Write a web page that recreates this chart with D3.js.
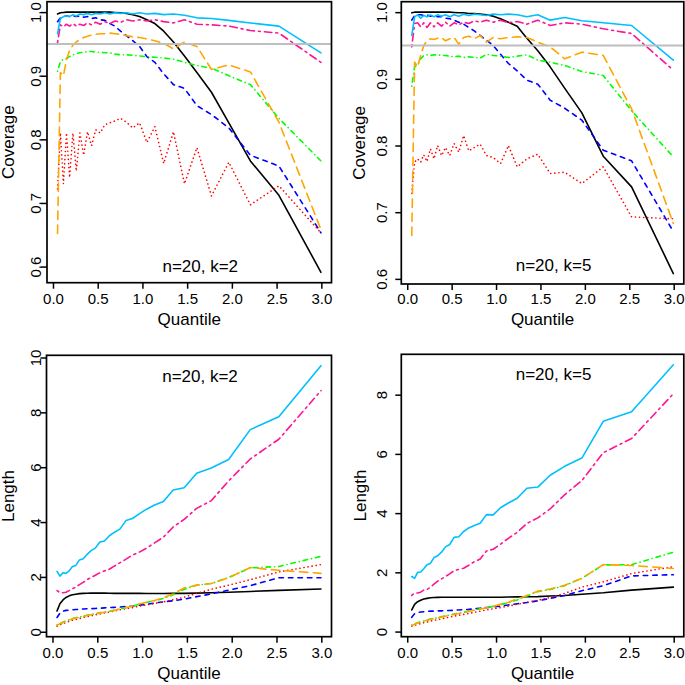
<!DOCTYPE html>
<html><head><meta charset="utf-8">
<script src="https://cdn.jsdelivr.net/npm/d3@7"></script>
<style>
html,body{margin:0;padding:0;background:#fff;}
svg{display:block;}
text{font-family:"Liberation Sans",Arial,Helvetica,sans-serif;fill:#000;}
</style>
</head><body>
<svg id="chart" width="685" height="685"></svg>
<script>
// ---------- data ----------
const quantile = [0.051,0.083,0.117,0.151,0.186,0.223,0.261,0.301,0.343,0.386,0.431,0.478,0.528,0.580,0.635,0.693,0.755,0.821,0.892,0.968,1.050,1.139,1.238,1.347,1.470,1.609,1.772,1.966,2.207,2.526,2.996];

const xTicks = [0, 0.5, 1.0, 1.5, 2.0, 2.5, 3.0];
const coverageTicks = [0.6, 0.7, 0.8, 0.9, 1.0];
const lengthTicksK2 = [0, 2, 4, 6, 8, 10];
const lengthTicksK5 = [0, 2, 4, 6, 8];
const nominalLevel = 0.95;
const panelLabels = ["n=20, k=2", "n=20, k=5", "n=20, k=2", "n=20, k=5"];
const yTitles = ["Coverage", "Coverage", "Length", "Length"];
const xTitle = "Quantile";

// coverage, k=2
const covK2Black  = [0.997,0.999,0.9995,1,1,1,1,1,1,1,1,1,1,1,1,0.9995,0.999,0.998,0.996,0.993,0.988,0.982,0.970,0.953,0.931,0.905,0.874,0.826,0.766,0.712,0.591];
const covK2Blue   = [0.985,0.991,0.993,0.994,0.993,0.994,0.993,0.994,0.992,0.993,0.990,0.991,0.988,0.987,0.982,0.978,0.970,0.963,0.955,0.946,0.930,0.921,0.903,0.886,0.880,0.853,0.839,0.818,0.775,0.758,0.653];
const covK2Red    = [0.722,0.810,0.730,0.810,0.740,0.810,0.750,0.810,0.775,0.812,0.790,0.815,0.810,0.823,0.826,0.829,0.833,0.827,0.818,0.826,0.795,0.820,0.762,0.812,0.730,0.787,0.711,0.764,0.697,0.727,0.653];
const covK2Green  = [0.907,0.922,0.926,0.927,0.930,0.933,0.935,0.936,0.937,0.938,0.938,0.937,0.937,0.936,0.936,0.934,0.933,0.933,0.932,0.931,0.930,0.929,0.928,0.926,0.921,0.916,0.912,0.900,0.886,0.833,0.766];
const covK2Orange = [0.652,0.905,0.900,0.925,0.940,0.948,0.953,0.957,0.960,0.962,0.964,0.965,0.966,0.966,0.967,0.966,0.965,0.963,0.961,0.960,0.958,0.955,0.951,0.942,0.953,0.946,0.910,0.917,0.906,0.827,0.658];
const covK2Pink   = [0.952,0.980,0.977,0.981,0.978,0.982,0.978,0.981,0.979,0.983,0.980,0.984,0.981,0.985,0.982,0.986,0.984,0.988,0.986,0.988,0.986,0.988,0.985,0.983,0.988,0.981,0.980,0.978,0.971,0.967,0.921];
const covK2Cyan   = [0.966,0.990,0.993,0.994,0.993,0.996,0.994,0.997,0.996,0.998,0.996,0.998,0.997,0.999,0.997,0.999,0.998,0.999,0.997,0.999,0.997,0.998,0.996,0.997,0.995,0.991,0.990,0.987,0.983,0.978,0.936];

// coverage, k=5
const covK5Black  = [0.999,1,1,1,1,1,1,1,1,1,1,1,0.9995,0.999,0.999,0.998,0.998,0.997,0.996,0.994,0.990,0.985,0.979,0.961,0.942,0.918,0.886,0.849,0.784,0.738,0.608];
const covK5Blue   = [0.988,0.995,0.996,0.996,0.995,0.996,0.994,0.995,0.993,0.993,0.991,0.990,0.988,0.985,0.982,0.977,0.972,0.965,0.958,0.950,0.937,0.923,0.912,0.898,0.892,0.868,0.856,0.838,0.793,0.777,0.671];
const covK5Red    = [0.728,0.775,0.780,0.775,0.786,0.776,0.795,0.780,0.800,0.785,0.797,0.785,0.803,0.790,0.815,0.792,0.797,0.802,0.785,0.782,0.773,0.800,0.768,0.780,0.787,0.758,0.760,0.743,0.768,0.693,0.690];
const covK5Green  = [0.889,0.918,0.921,0.930,0.935,0.936,0.935,0.936,0.936,0.935,0.935,0.934,0.933,0.934,0.932,0.933,0.932,0.931,0.937,0.935,0.934,0.932,0.934,0.936,0.928,0.925,0.920,0.911,0.905,0.852,0.783];
const covK5Orange = [0.665,0.925,0.918,0.935,0.950,0.957,0.960,0.959,0.961,0.962,0.957,0.960,0.962,0.952,0.962,0.964,0.960,0.965,0.955,0.962,0.960,0.962,0.963,0.962,0.955,0.948,0.930,0.940,0.935,0.855,0.683];
const covK5Pink   = [0.948,0.983,0.984,0.978,0.984,0.977,0.984,0.978,0.984,0.979,0.985,0.979,0.984,0.981,0.985,0.983,0.987,0.985,0.988,0.985,0.988,0.984,0.986,0.982,0.988,0.980,0.984,0.982,0.975,0.968,0.913];
const covK5Cyan   = [0.965,0.993,0.996,0.991,0.995,0.993,0.996,0.993,0.996,0.994,0.996,0.993,0.996,0.994,0.997,0.995,0.997,0.996,0.995,0.997,0.996,0.997,0.996,0.993,0.996,0.988,0.992,0.987,0.984,0.980,0.928];

// length, k=2
const lenK2Black  = [0.76,1.02,1.16,1.25,1.31,1.35,1.37,1.39,1.40,1.405,1.41,1.41,1.41,1.41,1.405,1.40,1.40,1.40,1.40,1.40,1.395,1.395,1.395,1.40,1.40,1.41,1.42,1.44,1.47,1.51,1.56];
const lenK2Blue   = [0.52,0.68,0.75,0.78,0.79,0.80,0.81,0.82,0.83,0.84,0.84,0.85,0.86,0.87,0.88,0.89,0.90,0.92,0.94,0.97,1.00,1.05,1.09,1.13,1.19,1.28,1.38,1.52,1.68,1.97,1.97];
const lenK2Red    = [0.20,0.25,0.30,0.34,0.38,0.42,0.45,0.48,0.52,0.55,0.58,0.62,0.65,0.69,0.72,0.76,0.80,0.84,0.88,0.93,0.98,1.03,1.09,1.17,1.26,1.40,1.55,1.70,1.90,2.18,2.45];
const lenK2Green  = [0.25,0.30,0.35,0.40,0.44,0.48,0.51,0.54,0.57,0.60,0.63,0.66,0.69,0.72,0.75,0.79,0.84,0.88,0.93,1.00,1.07,1.13,1.22,1.35,1.55,1.70,1.76,1.98,2.33,2.38,2.75];
const lenK2Orange = [0.24,0.29,0.34,0.39,0.43,0.47,0.50,0.53,0.56,0.59,0.62,0.65,0.68,0.71,0.74,0.78,0.83,0.88,0.94,1.01,1.08,1.14,1.24,1.38,1.60,1.70,1.76,1.97,2.34,2.24,2.13];
const lenK2Pink   = [1.50,1.43,1.42,1.44,1.50,1.57,1.63,1.72,1.80,1.90,1.98,2.06,2.15,2.22,2.28,2.40,2.52,2.65,2.80,2.90,3.05,3.24,3.45,3.82,4.10,4.50,4.78,5.50,6.30,7.02,8.79];
const lenK2Cyan   = [2.20,2.03,2.15,2.13,2.22,2.38,2.42,2.62,2.66,2.82,2.96,3.05,3.27,3.31,3.50,3.63,3.75,4.06,4.13,4.30,4.47,4.62,4.75,5.17,5.25,5.78,5.97,6.28,7.37,7.84,9.70];

// length, k=5
const lenK5Black  = [0.73,0.92,1.01,1.06,1.10,1.12,1.14,1.15,1.155,1.16,1.16,1.16,1.16,1.16,1.16,1.16,1.16,1.16,1.16,1.16,1.16,1.165,1.17,1.175,1.18,1.20,1.22,1.26,1.31,1.40,1.50];
const lenK5Blue   = [0.48,0.60,0.64,0.66,0.67,0.68,0.69,0.69,0.70,0.70,0.71,0.71,0.72,0.73,0.74,0.75,0.77,0.79,0.81,0.83,0.86,0.90,0.94,0.98,1.04,1.12,1.22,1.38,1.55,1.88,1.92];
const lenK5Red    = [0.18,0.21,0.24,0.27,0.30,0.32,0.35,0.38,0.40,0.43,0.46,0.49,0.52,0.55,0.58,0.61,0.65,0.69,0.73,0.77,0.81,0.86,0.92,0.98,1.06,1.15,1.29,1.50,1.68,1.96,2.19];
const lenK5Green  = [0.22,0.26,0.30,0.33,0.36,0.39,0.42,0.44,0.47,0.50,0.53,0.56,0.59,0.62,0.65,0.69,0.73,0.77,0.80,0.85,0.91,0.97,1.07,1.20,1.35,1.42,1.55,1.80,2.25,2.26,2.68];
const lenK5Orange = [0.20,0.25,0.29,0.32,0.35,0.38,0.41,0.44,0.46,0.49,0.52,0.55,0.58,0.61,0.64,0.68,0.72,0.76,0.80,0.85,0.92,0.99,1.10,1.22,1.36,1.44,1.56,1.80,2.26,2.23,2.13];
const lenK5Pink   = [1.22,1.30,1.30,1.33,1.40,1.42,1.50,1.60,1.70,1.78,1.86,1.95,2.06,2.10,2.14,2.24,2.36,2.45,2.72,2.78,2.95,3.15,3.35,3.65,3.84,4.14,4.62,5.10,6.04,6.52,8.03];
const lenK5Cyan   = [1.86,1.80,2.00,2.01,2.12,2.26,2.30,2.50,2.56,2.68,2.86,2.94,3.18,3.20,3.38,3.50,3.58,3.66,3.95,3.94,4.18,4.34,4.50,4.84,4.88,5.28,5.58,5.86,7.10,7.42,9.01];

// ---------- styles (line types as in R: solid, dashed, dotted, dotdash, longdash, twodash, solid) ----------
const seriesStyles = [
  {color:"#000000", dash:null},
  {color:"#0000FF", dash:"4.5,5"},
  {color:"#FF0000", dash:"0.1,4"},
  {color:"#00FF00", dash:"0.1,4,4.5,4"},
  {color:"#FFA500", dash:"8.5,5.5"},
  {color:"#FF1493", dash:"2,4,7.5,4"},
  {color:"#00BFFF", dash:null}
];

const panels = [
  {series:[covK2Black,covK2Blue,covK2Red,covK2Green,covK2Orange,covK2Pink,covK2Cyan], yTicks:coverageTicks, yFmt:".1f", ref:nominalLevel,
   left:47, right:331.5, top:1.7, bottom:282.7, yLabX:41, yTitleX:13.5, xLabY:304, xTitleY:325, legY:271.5},
  {series:[covK5Black,covK5Blue,covK5Red,covK5Green,covK5Orange,covK5Pink,covK5Cyan], yTicks:coverageTicks, yFmt:".1f", ref:nominalLevel,
   left:401.3, right:683.8, top:1.7, bottom:284, yLabX:387, yTitleX:365, xLabY:304, xTitleY:325, legY:271},
  {series:[lenK2Black,lenK2Blue,lenK2Red,lenK2Green,lenK2Orange,lenK2Pink,lenK2Cyan], yTicks:lengthTicksK2, yFmt:"d", ref:null,
   left:46.5, right:331.5, top:355.3, bottom:636.7, yLabX:41, yTitleX:14, xLabY:658, xTitleY:679, legY:382},
  {series:[lenK5Black,lenK5Blue,lenK5Red,lenK5Green,lenK5Orange,lenK5Pink,lenK5Cyan], yTicks:lengthTicksK5, yFmt:"d", ref:null,
   left:401.3, right:683.8, top:354.3, bottom:636.7, yLabX:387, yTitleX:366, xLabY:658, xTitleY:679, legY:380}
];

const svg = d3.select("#chart");

panels.forEach((p, pi) => {
  const g = svg.append("g");
  const xe = d3.extent(quantile), xr = xe[1] - xe[0];
  const x = d3.scaleLinear().domain([xe[0] - 0.04*xr, xe[1] + 0.04*xr]).range([p.left, p.right]);
  const ye = d3.extent(p.series.flat()), yr = ye[1] - ye[0];
  const y = d3.scaleLinear().domain([ye[0] - 0.04*yr, ye[1] + 0.04*yr]).range([p.bottom, p.top]);

  const line = d3.line().x(d => x(d[0])).y(d => y(d[1]));

  p.series.forEach((vals, i) => {
    const st = seriesStyles[i];
    g.append("path")
      .datum(quantile.map((q, j) => [q, vals[j]]))
      .attr("d", line)
      .attr("fill", "none")
      .attr("stroke", st.color)
      .attr("stroke-width", 1.6)
      .attr("stroke-linecap", "round")
      .attr("stroke-linejoin", "round")
      .attr("stroke-dasharray", st.dash);
  });

  if (p.ref !== null) {
    g.append("line")
      .attr("x1", p.left).attr("x2", p.right)
      .attr("y1", y(p.ref)).attr("y2", y(p.ref))
      .attr("stroke", "#BEBEBE").attr("stroke-width", 2);
  }

  g.append("rect")
    .attr("x", p.left).attr("y", p.top)
    .attr("width", p.right - p.left).attr("height", p.bottom - p.top)
    .attr("fill", "none").attr("stroke", "#000").attr("stroke-width", 1.7);

  // x axis
  const xa = g.append("g").attr("transform", `translate(0,${p.bottom})`)
    .call(d3.axisBottom(x).tickValues(xTicks).tickFormat(d3.format(".1f")).tickSize(6));
  xa.attr("font-family", null).attr("font-size", null);
  xa.select(".domain").remove();
  xa.selectAll(".tick line").attr("stroke", "#000").attr("stroke-width", 1.5);
  xa.selectAll(".tick text").attr("y", p.xLabY - p.bottom).attr("dy", null)
    .style("font-size", "15px");

  // y axis
  const ya = g.append("g").attr("transform", `translate(${p.left},0)`)
    .call(d3.axisLeft(y).tickValues(p.yTicks).tickFormat(d3.format(p.yFmt)).tickSize(6));
  ya.attr("font-family", null).attr("font-size", null);
  ya.select(".domain").remove();
  ya.selectAll(".tick line").attr("stroke", "#000").attr("stroke-width", 1.5);
  ya.selectAll(".tick text")
    .attr("x", 0).attr("y", -(p.left - p.yLabX)).attr("dy", null)
    .attr("transform", "rotate(-90)")
    .attr("text-anchor", "middle")
    .style("font-size", "15px");

  // titles
  g.append("text")
    .attr("x", (p.left + p.right) / 2).attr("y", p.xTitleY)
    .attr("text-anchor", "middle").style("font-size", "17px")
    .text(xTitle);
  g.append("text")
    .attr("transform", `translate(${p.yTitleX},${(p.top + p.bottom) / 2}) rotate(-90)`)
    .attr("text-anchor", "middle").style("font-size", "17px")
    .text(yTitles[pi]);

  // panel legend text
  g.append("text")
    .attr("x", (p.left + p.right) / 2 + 11).attr("y", p.legY)
    .attr("text-anchor", "middle").style("font-size", "17px")
    .text(panelLabels[pi]);
});
</script>
</body></html>
